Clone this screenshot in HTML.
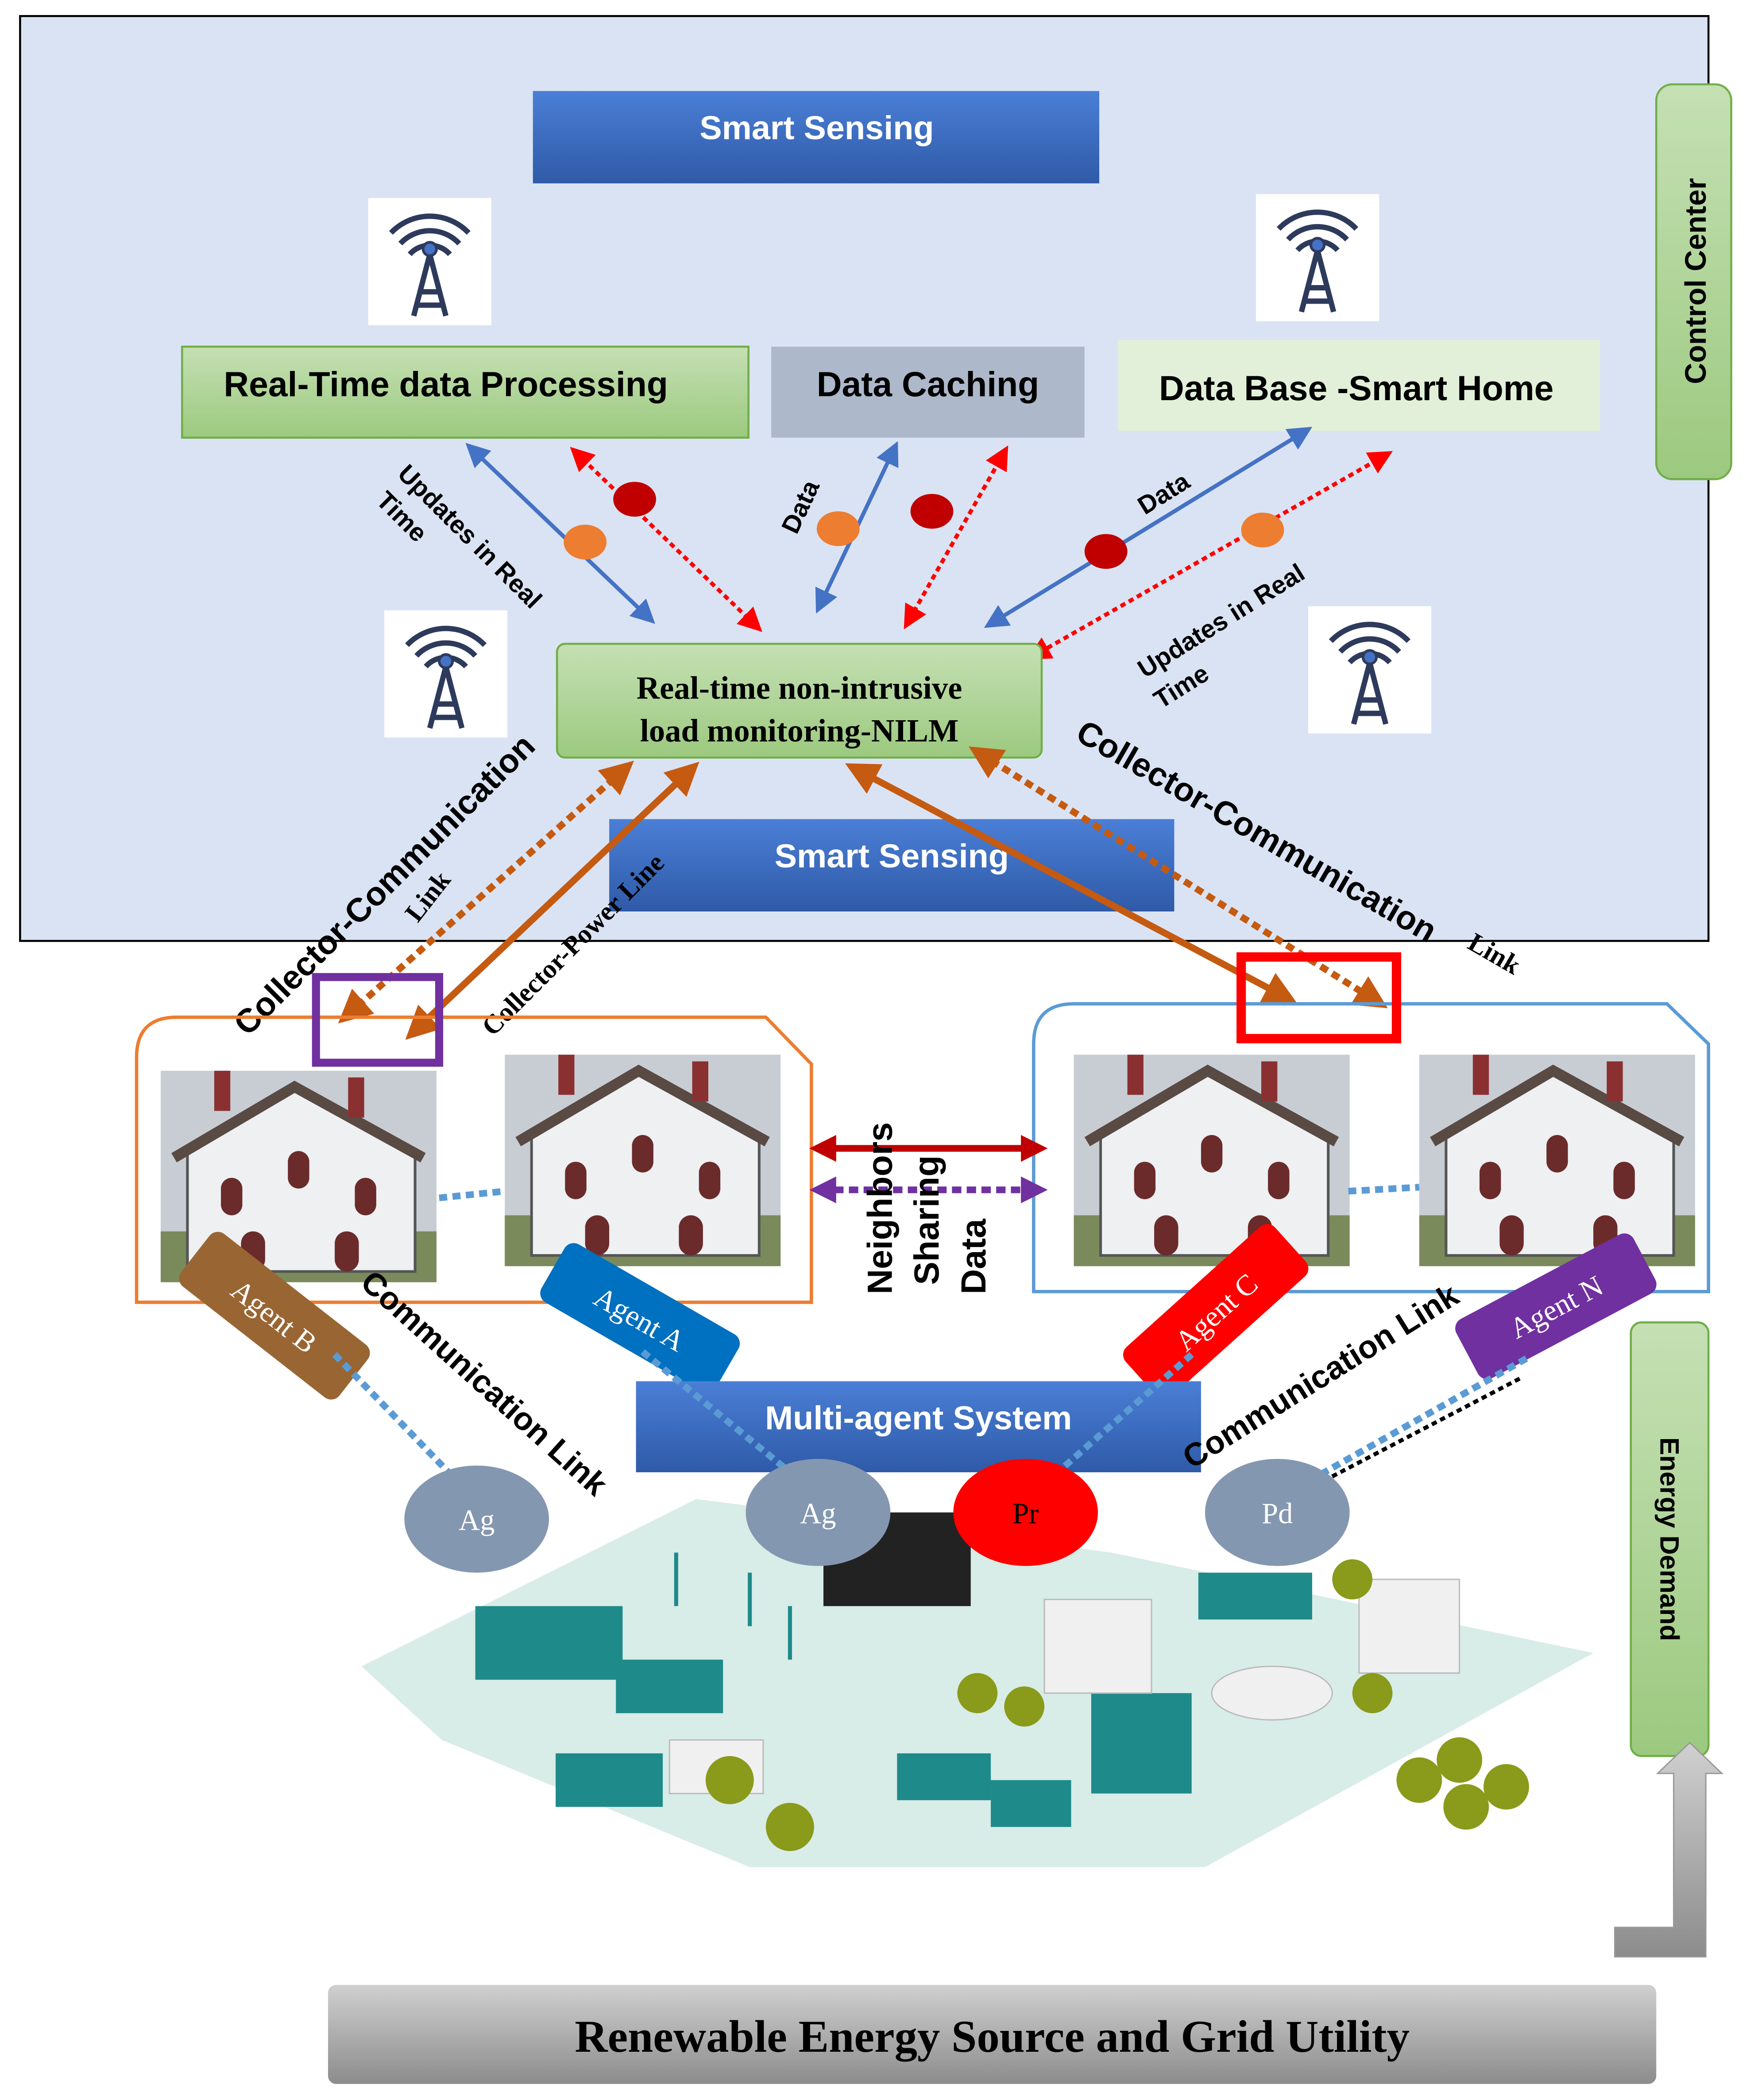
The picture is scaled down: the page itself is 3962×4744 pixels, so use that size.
<!DOCTYPE html>
<html><head><meta charset="utf-8"><style>html,body{margin:0;padding:0;background:#fff}svg{display:block}</style></head><body>
<svg width="3962" height="4744" viewBox="0 0 1310 1569" preserveAspectRatio="none" xmlns="http://www.w3.org/2000/svg" font-family="Liberation Sans, sans-serif">
<defs>
<linearGradient id="blue" x1="0" y1="0" x2="0" y2="1"><stop offset="0" stop-color="#4a7fd6"/><stop offset="1" stop-color="#2f5aa8"/></linearGradient>
<linearGradient id="grn" x1="0" y1="0" x2="0" y2="1"><stop offset="0" stop-color="#c5e0b4"/><stop offset="1" stop-color="#9cc97f"/></linearGradient>
<linearGradient id="gry" x1="0" y1="0" x2="0" y2="1"><stop offset="0" stop-color="#d0d0d0"/><stop offset="1" stop-color="#8c8c8c"/></linearGradient>
<marker id="ab" markerWidth="6" markerHeight="6" refX="4" refY="3" orient="auto-start-reverse" markerUnits="strokeWidth"><path d="M0,0L6,3L0,6z" fill="#4472c4"/></marker>
<marker id="ar" markerWidth="6" markerHeight="6" refX="4" refY="3" orient="auto-start-reverse" markerUnits="strokeWidth"><path d="M0,0L6,3L0,6z" fill="#ff0000"/></marker>
<marker id="ao" markerWidth="5" markerHeight="5" refX="3" refY="2.5" orient="auto-start-reverse" markerUnits="strokeWidth"><path d="M0,0L5,2.5L0,5z" fill="#c55a11"/></marker>
<marker id="ad" markerWidth="4" markerHeight="4" refX="2.5" refY="2" orient="auto-start-reverse" markerUnits="strokeWidth"><path d="M0,0L4,2L0,4z" fill="#c00000"/></marker>
<marker id="ap" markerWidth="4" markerHeight="4" refX="2.5" refY="2" orient="auto-start-reverse" markerUnits="strokeWidth"><path d="M0,0L4,2L0,4z" fill="#7030a0"/></marker>
<g id="ant"><rect width="92" height="95" fill="#fff"/><g fill="none" stroke="#2e3a5c" stroke-width="4"><path d="M31,42a20,20 0 0 1 30,0M24,34a30,30 0 0 1 44,0M17,26a40,40 0 0 1 58,0"/><path d="M46,42L34,88M46,42L58,88M38,70h16M36,80h20"/></g><circle cx="46" cy="38" r="5" fill="#4472c4" stroke="#2e3a5c" stroke-width="2"/></g>
<g id="house"><rect width="206" height="158" fill="#c8cdd4"/><rect y="120" width="206" height="38" fill="#7a8a5a"/><path d="M20,60L100,15L190,60V150H20z" fill="#eef0f2" stroke="#555" stroke-width="2"/><path d="M10,65L100,12L196,65" fill="none" stroke="#5a4a44" stroke-width="8"/><rect x="40" y="0" width="12" height="30" fill="#8a3030"/><rect x="140" y="5" width="12" height="30" fill="#8a3030"/><g fill="#6b2b2b"><rect x="45" y="80" width="16" height="28" rx="8"/><rect x="95" y="60" width="16" height="28" rx="8"/><rect x="145" y="80" width="16" height="28" rx="8"/><rect x="60" y="120" width="18" height="30" rx="9"/><rect x="130" y="120" width="18" height="30" rx="9"/></g></g>
</defs>
<rect width="1310" height="1569" fill="#fff"/>
<rect x="15" y="12" width="1261" height="691" fill="#dae3f3" stroke="#000" stroke-width="1.5"/>
<rect x="398" y="68" width="423" height="69" fill="url(#blue)"/>
<text x="610" y="104" font-size="25" font-weight="bold" fill="#fff" text-anchor="middle">Smart Sensing</text>
<use href="#ant" x="275" y="148"/><use href="#ant" x="938" y="145"/><use href="#ant" x="287" y="456"/><use href="#ant" x="977" y="453"/>
<rect x="136" y="259" width="423" height="68" fill="url(#grn)" stroke="#70ad47" stroke-width="1.5"/>
<text x="333" y="296" font-size="26" font-weight="bold" text-anchor="middle">Real-Time data Processing</text>
<rect x="576" y="259" width="234" height="68" fill="#adb9ca"/>
<text x="693" y="296" font-size="26" font-weight="bold" text-anchor="middle">Data Caching</text>
<rect x="835" y="254" width="360" height="68" fill="#e2f0d9"/>
<text x="1013" y="299" font-size="26" font-weight="bold" text-anchor="middle">Data Base -Smart Home</text>
<rect x="1237" y="63" width="56" height="295" rx="12" fill="url(#grn)" stroke="#70ad47" stroke-width="1.5"/>
<text transform="translate(1274,210) rotate(-90)" font-size="22" font-weight="bold" text-anchor="middle">Control Center</text>
<g stroke-width="3" fill="none">
<line x1="352" y1="335" x2="485" y2="462" stroke="#4472c4" marker-start="url(#ab)" marker-end="url(#ab)"/>
<line x1="430" y1="338" x2="565" y2="468" stroke="#ff0000" stroke-dasharray="4,3" marker-start="url(#ar)" marker-end="url(#ar)"/>
<line x1="668" y1="335" x2="612" y2="453" stroke="#4472c4" marker-start="url(#ab)" marker-end="url(#ab)"/>
<line x1="750" y1="338" x2="678" y2="465" stroke="#ff0000" stroke-dasharray="4,3" marker-start="url(#ar)" marker-end="url(#ar)"/>
<line x1="975" y1="322" x2="740" y2="466" stroke="#4472c4" marker-start="url(#ab)" marker-end="url(#ab)"/>
<line x1="1035" y1="340" x2="772" y2="490" stroke="#ff0000" stroke-dasharray="4,3" marker-start="url(#ar)" marker-end="url(#ar)"/>
</g>
<ellipse cx="437" cy="405" rx="16" ry="13" fill="#ed7d31"/><ellipse cx="474" cy="373" rx="16" ry="13" fill="#c00000"/>
<ellipse cx="626" cy="395" rx="16" ry="13" fill="#ed7d31"/><ellipse cx="696" cy="382" rx="16" ry="13" fill="#c00000"/>
<ellipse cx="826" cy="412" rx="16" ry="13" fill="#c00000"/><ellipse cx="943" cy="396" rx="16" ry="13" fill="#ed7d31"/>
<g font-size="19" font-weight="bold">
<text transform="translate(296,355) rotate(45)">Updates in Real</text>
<text transform="translate(280,375) rotate(45)">Time</text>
<text transform="translate(595,400) rotate(-65)">Data</text>
<text transform="translate(855,385) rotate(-32)">Data</text>
<text transform="translate(855,507) rotate(-32)">Updates in Real</text>
<text transform="translate(867,530) rotate(-32)">Time</text>
</g>
<rect x="416" y="481" width="362" height="85" rx="6" fill="url(#grn)" stroke="#70ad47" stroke-width="1.5"/>
<text x="597" y="522" font-size="24" font-weight="bold" text-anchor="middle" font-family="Liberation Serif, serif">Real-time non-intrusive</text>
<text x="597" y="554" font-size="24" font-weight="bold" text-anchor="middle" font-family="Liberation Serif, serif">load monitoring-NILM</text>
<rect x="455" y="612" width="422" height="69" fill="url(#blue)"/>
<text x="666" y="648" font-size="25" font-weight="bold" fill="#fff" text-anchor="middle">Smart Sensing</text>
<g stroke-width="5" fill="none">
<line x1="466" y1="575" x2="260" y2="758" stroke="#c55a11" stroke-dasharray="6,4" marker-start="url(#ao)" marker-end="url(#ao)"/>
<line x1="515" y1="576" x2="310" y2="770" stroke="#c55a11" marker-start="url(#ao)" marker-end="url(#ao)"/>
<line x1="640" y1="575" x2="960" y2="745" stroke="#c55a11" marker-start="url(#ao)" marker-end="url(#ao)"/>
<line x1="732" y1="563" x2="1028" y2="748" stroke="#c55a11" stroke-dasharray="6,4" marker-start="url(#ao)" marker-end="url(#ao)"/>
</g>
<g font-weight="bold">
<text transform="translate(185,775) rotate(-45)" font-size="25">Collector-Communication</text>
<text transform="translate(312,690) rotate(-52)" font-size="20" font-family="Liberation Serif, serif">Link</text>
<text transform="translate(368,775) rotate(-45)" font-size="20" font-family="Liberation Serif, serif">Collector-Power Line</text>
<text transform="translate(802,552) rotate(30)" font-size="25">Collector-Communication</text>
<text transform="translate(1095,708) rotate(30)" font-size="20" font-family="Liberation Serif, serif">Link</text>
</g>
<path d="M102,790Q102,760 132,760H572L606,795V973H102z" fill="none" stroke="#ed7d31" stroke-width="2.5"/>
<path d="M772,780Q772,750 802,750H1245L1276,780V965H772z" fill="none" stroke="#5b9bd5" stroke-width="2.5"/>
<use href="#house" x="120" y="800"/><use href="#house" x="377" y="788"/><use href="#house" x="802" y="788"/><use href="#house" x="1060" y="788"/>
<rect x="236" y="730" width="92" height="64" fill="none" stroke="#7030a0" stroke-width="6"/>
<rect x="927" y="715" width="116" height="61" fill="none" stroke="#ff0000" stroke-width="7"/>
<line x1="328" y1="895" x2="377" y2="890" stroke="#5b9bd5" stroke-width="5" stroke-dasharray="6,4"/>
<line x1="1007" y1="890" x2="1060" y2="887" stroke="#5b9bd5" stroke-width="5" stroke-dasharray="6,4"/>
<line x1="612" y1="858" x2="775" y2="858" stroke="#c00000" stroke-width="5" marker-start="url(#ad)" marker-end="url(#ad)"/>
<line x1="612" y1="889" x2="775" y2="889" stroke="#7030a0" stroke-width="5" stroke-dasharray="7,4" marker-start="url(#ap)" marker-end="url(#ap)"/>
<g font-size="26" font-weight="bold"><text transform="translate(666,967) rotate(-90)">Neighbors</text><text transform="translate(701,960) rotate(-90)">Sharing</text><text transform="translate(736,967) rotate(-90)">Data</text></g>
<path d="M270,1245L520,1120L830,1160L1190,1235L900,1395L560,1395L330,1300z" fill="#d8ece8"/>
<g fill="#1e8a8a"><rect x="355" y="1200" width="110" height="55"/><rect x="460" y="1240" width="80" height="40"/><rect x="415" y="1310" width="80" height="40"/><rect x="670" y="1310" width="70" height="35"/><rect x="740" y="1330" width="60" height="35"/><rect x="815" y="1265" width="75" height="75"/><rect x="895" y="1175" width="85" height="35"/></g>
<g fill="#222"><rect x="615" y="1130" width="110" height="70"/></g>
<g fill="#f0f0f0" stroke="#bbb"><rect x="780" y="1195" width="80" height="70"/><rect x="1015" y="1180" width="75" height="70"/><ellipse cx="950" cy="1265" rx="45" ry="20"/><rect x="500" y="1300" width="70" height="40"/></g>
<g fill="#8a9a1a"><circle cx="545" cy="1330" r="18"/><circle cx="590" cy="1365" r="18"/><circle cx="730" cy="1265" r="15"/><circle cx="765" cy="1275" r="15"/><circle cx="1010" cy="1180" r="15"/><circle cx="1025" cy="1265" r="15"/><circle cx="1060" cy="1330" r="17"/><circle cx="1090" cy="1315" r="17"/><circle cx="1125" cy="1335" r="17"/><circle cx="1095" cy="1350" r="17"/></g>
<g stroke="#1e8a8a" stroke-width="3"><line x1="505" y1="1200" x2="505" y2="1160"/><line x1="560" y1="1215" x2="560" y2="1175"/><line x1="590" y1="1240" x2="590" y2="1200"/></g>
<g font-family="Liberation Serif, serif" font-size="22" fill="#fff">
<g transform="translate(205,983) rotate(38)"><rect x="-75" y="-25" width="150" height="50" rx="8" fill="#996633"/><text text-anchor="middle" y="8">Agent B</text></g>
<g transform="translate(478,985) rotate(30)"><rect x="-75" y="-25" width="150" height="50" rx="8" fill="#0070c0"/><text text-anchor="middle" y="8">Agent A</text></g>
<g transform="translate(908,980) rotate(-42)"><rect x="-75" y="-25" width="150" height="50" rx="8" fill="#ff0000"/><text text-anchor="middle" y="8">Agent C</text></g>
<g transform="translate(1162,976) rotate(-28)"><rect x="-75" y="-25" width="150" height="50" rx="8" fill="#7030a0"/><text text-anchor="middle" y="8">Agent N</text></g>
</g>
<rect x="475" y="1032" width="422" height="68" fill="url(#blue)"/>
<text x="686" y="1068" font-size="25" font-weight="bold" fill="#fff" text-anchor="middle">Multi-agent System</text>
<g stroke-width="5" stroke-dasharray="6,4" fill="none" stroke="#5b9bd5">
<line x1="250" y1="1012" x2="335" y2="1100"/><line x1="480" y1="1010" x2="590" y2="1100"/><line x1="890" y1="1012" x2="790" y2="1100"/><line x1="1140" y1="1015" x2="975" y2="1108"/>
</g>
<line x1="1135" y1="1030" x2="978" y2="1112" stroke="#000" stroke-width="3" stroke-dasharray="4,3"/>
<g font-weight="bold" font-size="24"><text transform="translate(268,960) rotate(42)">Communication Link</text><text transform="translate(890,1098) rotate(-32)">Communication Link</text></g>
<g font-family="Liberation Serif, serif" font-size="22" text-anchor="middle">
<ellipse cx="356" cy="1135" rx="54" ry="40" fill="#8497b0"/><text x="356" y="1143" fill="#fff">Ag</text>
<ellipse cx="611" cy="1130" rx="54" ry="40" fill="#8497b0"/><text x="611" y="1138" fill="#fff">Ag</text>
<ellipse cx="766" cy="1130" rx="54" ry="40" fill="#ff0000"/><text x="766" y="1138">Pr</text>
<ellipse cx="954" cy="1130" rx="54" ry="40" fill="#8497b0"/><text x="954" y="1138" fill="#fff">Pd</text>
</g>
<rect x="1218" y="988" width="58" height="324" rx="8" fill="url(#grn)" stroke="#70ad47" stroke-width="1.5"/>
<text transform="translate(1240,1150) rotate(90)" font-size="20" font-weight="bold" text-anchor="middle">Energy Demand</text>
<path d="M1206,1440H1250V1325H1238L1262,1302L1286,1325H1274V1462H1206z" fill="url(#gry)" stroke="#999"/>
<rect x="245" y="1483" width="992" height="74" rx="6" fill="url(#gry)"/>
<text x="741" y="1533" font-size="34" font-weight="bold" text-anchor="middle" font-family="Liberation Serif, serif">Renewable Energy Source and Grid Utility</text>
</svg>
</body></html>
